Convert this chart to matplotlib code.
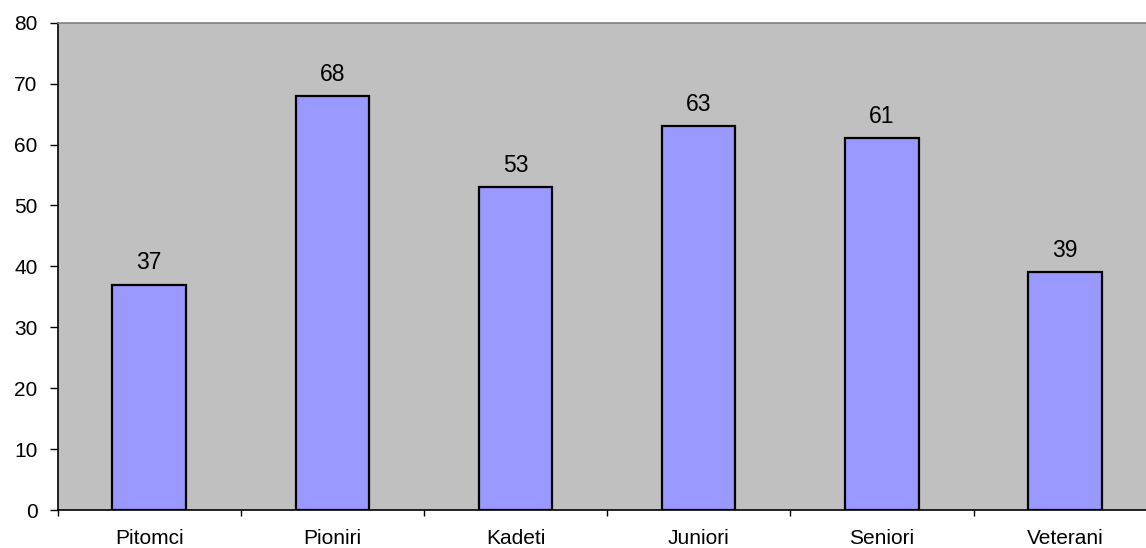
import matplotlib
matplotlib.use("Agg")
import matplotlib.pyplot as plt
import numpy as np

categories = ["Pitomci", "Pioniri", "Kadeti", "Juniori", "Seniori", "Veterani"]
values = [37, 68, 53, 63, 61, 39]
yticks = [0, 10, 20, 30, 40, 50, 60, 70, 80]

plt.rcParams['font.family'] = ['Liberation Sans', 'DejaVu Sans']

W, H = 1146, 548
fig = plt.figure(figsize=(W / 100, H / 100), dpi=100)
left_px, right_px, top_px, bottom_px = 57.5, 1156.7, 22.7, 510.0
ax = fig.add_axes([left_px / W, (H - bottom_px) / H,
                   (right_px - left_px) / W, (bottom_px - top_px) / H])
ax.set_facecolor('#C0C0C0')

x = np.arange(len(categories))
ax.bar(x, values, width=0.4, color='#9999FF', edgecolor='black', linewidth=1.6, zorder=3)
for xi, v in zip(x, values):
    ax.annotate(str(v), (xi, v), xytext=(0, 11), textcoords='offset points',
                ha='center', va='baseline', fontsize=16.5, color='black')

ax.set_xlim(-0.5, len(categories) - 0.5)
ax.set_ylim(0, 80)
ax.set_yticks(yticks)
ax.set_yticklabels([str(t) for t in yticks], fontsize=15)
ax.set_xticks(np.arange(-0.5, len(categories), 1.0))
ax.set_xticklabels([])
ax.set_xticks(x, minor=True)
ax.set_xticklabels(categories, minor=True, fontsize=15)
ax.tick_params(axis='x', which='minor', length=0, pad=13.5)
ax.tick_params(axis='x', which='major', length=4.3, width=1, color='black', direction='out')
ax.tick_params(axis='y', length=5.8, width=1, direction='out', pad=8.6)

ax.spines['left'].set_color('black')
ax.spines['left'].set_linewidth(1.2)
ax.spines['bottom'].set_color('black')
ax.spines['bottom'].set_linewidth(1.2)
ax.spines['top'].set_color('#808080')
ax.spines['top'].set_linewidth(1.2)
ax.spines['right'].set_visible(False)

fig.savefig('out.png', dpi=100, facecolor='white')
